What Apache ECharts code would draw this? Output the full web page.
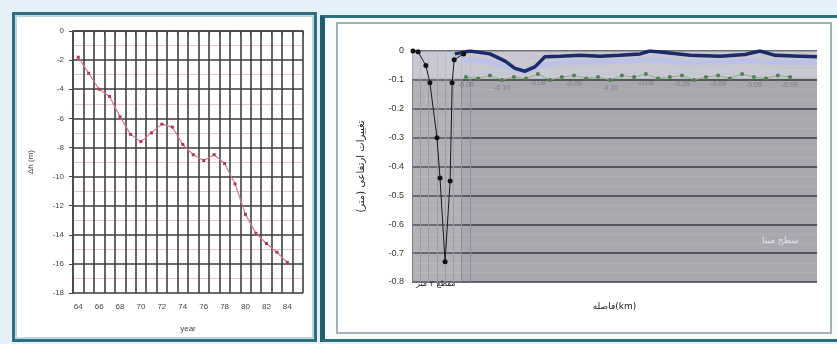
<!DOCTYPE html>
<html>
<head>
<meta charset="utf-8">
<script src="https://cdn.jsdelivr.net/npm/echarts@6/dist/echarts.min.js"></script>
<style>
html,body{margin:0;padding:0;width:837px;height:344px;overflow:hidden;background:#e4f1f8;}
.f{position:absolute;box-sizing:border-box;}
#fl{left:12px;top:12px;width:305px;height:330px;border:3px solid #2e6f80;background:#fff;box-shadow:inset 0 0 0 2px #bcd6de;}
#fr{left:320px;top:15px;width:520px;height:327px;border:3px solid #2e6f80;border-left:5px solid #215d6d;background:#f7fbfc;}
#fri{left:336px;top:22px;width:496px;height:312px;border:2px solid #a6aeb6;background:#fff;}
#c{position:absolute;left:0;top:0;width:837px;height:344px;}
</style>
</head>
<body>
<div class="f" id="fl"></div>
<div class="f" id="fr"></div>
<div class="f" id="fri"></div>
<div id="c"></div>
<script>
// ---- left chart data ----
const yearsL = ['64','65','66','67','68','69','70','71','72','73','74','75','76','77','78','79','80','81','82','83','84','85'];
const subsidenceL = [-1.8,-2.9,-4.0,-4.5,-5.9,-7.1,-7.6,-7.0,-6.4,-6.6,-7.8,-8.5,-8.9,-8.5,-9.1,-10.5,-12.6,-13.9,-14.6,-15.2,-15.9];
const yMinL = -18, yMaxL = 0, yStepL = 2;

// ---- right chart data ----
const distMax = 120;
const vX = [0.3, 1.8, 4.1, 5.3, 7.4, 8.3, 9.8, 11.3, 11.9, 12.5, 15.3];
const vY = [0, -0.003, -0.05, -0.11, -0.30, -0.44, -0.73, -0.45, -0.11, -0.03, -0.01];
const navyX = [12.7, 17.2, 23.1, 27.6, 30.5, 33.5, 36.4, 39.4, 43.9, 49.8, 55.7, 61.6, 67.6, 70.5, 75, 82.4, 91.3, 98.7, 103.1, 107.6, 115, 120];
const navyY = [-0.01, 0, -0.01, -0.035, -0.06, -0.07, -0.055, -0.02, -0.018, -0.015, -0.018, -0.015, -0.01, 0, -0.005, -0.015, -0.018, -0.012, 0, -0.015, -0.018, -0.02];
const blueX = [15, 22, 28, 33, 38, 45, 55, 65, 72, 80, 90, 100, 110, 120];
const blueY = [-0.03, -0.035, -0.055, -0.075, -0.05, -0.04, -0.038, -0.035, -0.03, -0.04, -0.038, -0.035, -0.04, -0.04];
const greenX = [16, 19.6, 23.1, 26.7, 30.2, 33.8, 37.3, 40.9, 44.4, 48, 51.6, 55.1, 58.7, 62.2, 65.8, 69.3, 72.9, 76.4, 80, 83.6, 87.1, 90.7, 94.2, 97.8, 101.3, 104.9, 108.4, 112];
const greenY = [-0.09, -0.095, -0.085, -0.1, -0.09, -0.095, -0.08, -0.1, -0.09, -0.085, -0.095, -0.09, -0.1, -0.085, -0.09, -0.08, -0.095, -0.09, -0.085, -0.1, -0.09, -0.085, -0.095, -0.08, -0.09, -0.095, -0.085, -0.09];
const yMinR = -0.8, yMaxR = 0, yStepR = 0.1;

const pair = (xs, ys) => xs.map((x, i) => [x, ys[i]]);
const ff = 'Liberation Sans, Arial, sans-serif';
const fa = 'DejaVu Sans, Noto Sans, sans-serif';

const chart = echarts.init(document.getElementById('c'), null, {renderer: 'canvas'});
chart.setOption({
  backgroundColor: 'transparent',
  animation: false,
  grid: [
    {left: 73, top: 31, width: 230, height: 262, show: true, backgroundColor: '#fff', borderWidth: 0},
    {left: 412, top: 51, width: 405, height: 231, show: true, backgroundColor: '#a8a8ae', borderWidth: 0},
    {left: 412, top: 51, width: 58, height: 231, show: false}
  ],
  xAxis: [
    {gridIndex: 0, type: 'category', data: yearsL, boundaryGap: true,
     axisLine: {show: true, lineStyle: {color: '#444', width: 1.5}},
     axisTick: {show: true, interval: 0, length: 4, lineStyle: {color: '#444'}},
     axisLabel: {interval: 1, fontSize: 8, color: '#444', margin: 10, fontFamily: ff},
     splitLine: {show: true, interval: 0, lineStyle: {color: '#404040', width: 1.6}},
     name: 'year', nameLocation: 'middle', nameGap: 32, nameTextStyle: {fontSize: 8, color: '#444', fontFamily: ff}},
    {gridIndex: 1, type: 'value', min: 0, max: distMax,
     axisLine: {show: false}, axisTick: {show: false}, axisLabel: {show: false}, splitLine: {show: false},
     name: 'فاصله(km)', nameLocation: 'middle', nameGap: 20, nameTextStyle: {fontSize: 9, color: '#222', fontFamily: fa}},
    {gridIndex: 2, type: 'value', min: 0, max: 7, interval: 1,
     axisLine: {show: false}, axisTick: {show: false}, axisLabel: {show: false},
     splitLine: {show: true, lineStyle: {color: '#8e8e9a', width: 1}}}
  ],
  yAxis: [
    {gridIndex: 0, type: 'value', min: yMinL, max: yMaxL, interval: yStepL,
     axisLine: {show: true, lineStyle: {color: '#444', width: 1.5}},
     axisTick: {show: true, length: 4, lineStyle: {color: '#444'}},
     axisLabel: {fontSize: 8, color: '#444', margin: 9, fontFamily: ff},
     splitLine: {show: true, lineStyle: {color: '#3a3a3a', width: 1.6}},
     minorTick: {show: false, splitNumber: 2},
     minorSplitLine: {show: true, lineStyle: {color: '#e6c4cc', width: 1}},
     name: 'Δh (m)', nameLocation: 'middle', nameGap: 38, nameRotate: 90,
     nameTextStyle: {fontSize: 8, color: '#444', fontFamily: ff}},
    {gridIndex: 1, type: 'value', min: yMinR, max: yMaxR, interval: yStepR,
     axisLine: {show: true, lineStyle: {color: '#6a6a74', width: 1}},
     axisTick: {show: false},
     axisLabel: {fontSize: 9, color: '#333', margin: 8, fontFamily: ff},
     splitLine: {show: true, lineStyle: {color: '#3c3c46', width: 1.5}},
     minorTick: {show: false, splitNumber: 3},
     minorSplitLine: {show: true, lineStyle: {color: '#b0b0b8', width: 1}},
     name: 'تغییرات ارتفاعی (متر)', nameLocation: 'middle', nameGap: 46, nameRotate: 90,
     nameTextStyle: {fontSize: 10, color: '#222', fontFamily: fa}},
    {gridIndex: 2, type: 'value', min: yMinR, max: yMaxR, show: false}
  ],
  series: [
    {type: 'line', xAxisIndex: 0, yAxisIndex: 0, data: subsidenceL,
     lineStyle: {color: '#d4788a', width: 1.2}, symbol: 'rect', symbolSize: 3,
     itemStyle: {color: '#a83c58'}, z: 5},
    {type: 'line', xAxisIndex: 1, yAxisIndex: 1, data: [], silent: true,
     markArea: {silent: true, data: [
       [{coord: [0, 0], itemStyle: {color: 'rgba(232,232,246,0.5)'}}, {coord: [distMax, -0.095]}],
       [{coord: [0, -0.095], itemStyle: {color: 'rgba(255,255,255,0.12)'}}, {coord: [14.5, yMinR]}]
     ]}},
    {type: 'line', xAxisIndex: 1, yAxisIndex: 1, data: pair(blueX, blueY),
     showSymbol: false, lineStyle: {color: '#bcc2e6', width: 5}, z: 3},
    {type: 'line', xAxisIndex: 1, yAxisIndex: 1, data: pair(greenX, greenY),
     lineStyle: {color: '#8fb08a', width: 1}, symbol: 'circle', symbolSize: 4,
     itemStyle: {color: '#4f7f4a'}, z: 4,
     label: {show: true, position: 'bottom', distance: 3, fontSize: 7, color: 'rgba(80,80,90,0.55)',
       formatter: p => (p.dataIndex % 3 === 0 ? p.value[1].toFixed(2) : '')}},
    {type: 'line', xAxisIndex: 1, yAxisIndex: 1, data: pair(navyX, navyY),
     showSymbol: false, lineStyle: {color: '#1b2a6a', width: 3.5}, z: 6},
    {type: 'line', xAxisIndex: 1, yAxisIndex: 1, data: pair(vX, vY),
     lineStyle: {color: '#1a1a1a', width: 1}, symbol: 'circle', symbolSize: 5,
     itemStyle: {color: '#111'}, z: 7}
  ],
  graphic: [
    {type: 'text', left: 416, top: 280, z: 50, style: {text: 'مقطع ۲ متر', fontSize: 8, fill: '#222', fontFamily: fa}},
    {type: 'text', left: 762, top: 236, z: 50, style: {text: 'سطح مبنا', fontSize: 9, fill: '#e4e4ec', fontFamily: fa}}
  ]
});
</script>
</body>
</html>
